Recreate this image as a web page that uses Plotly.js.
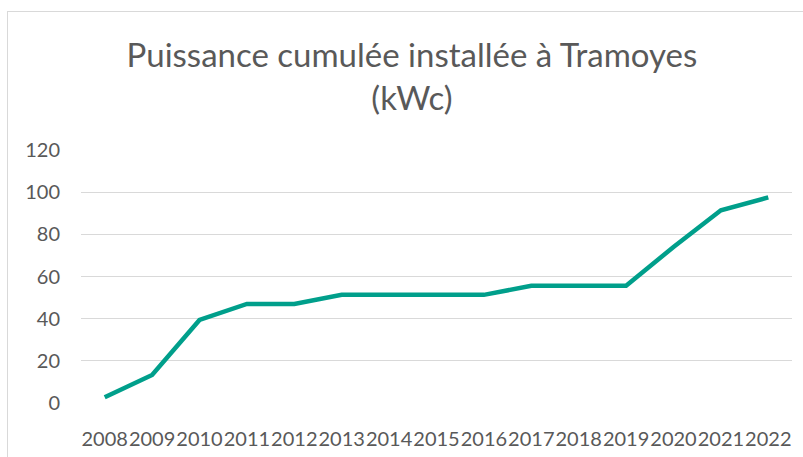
<!DOCTYPE html>
<html>
<head>
<meta charset="utf-8">
<script src="https://cdn.plot.ly/plotly-3.0.1.min.js"></script>
<style>
  html, body { margin: 0; padding: 0; background: #fff; }
  #wrap { position: relative; width: 803px; height: 457px; overflow: hidden; }
  #chart { width: 803px; height: 457px; }
  #frame { position: absolute; left: 7px; top: 11px; width: 820px; height: 480px;
           border-top: 1.5px solid #d9d9d9; border-left: 1.5px solid #d9d9d9; pointer-events: none; }
</style>
</head>
<body>
<div id="wrap">
  <div id="chart"></div>
  <div id="frame"></div>
</div>
<script>
const years = ["2008","2009","2010","2011","2012","2013","2014","2015","2016","2017","2018","2019","2020","2021","2022"];
const puissance = [2.7, 13.3, 39.4, 47, 47, 51.3, 51.3, 51.3, 51.3, 55.6, 55.6, 55.6, 74, 91.4, 97.5];
const yTicks = [0, 20, 40, 60, 80, 100, 120];
const titleText = "Puissance cumulée installée à Tramoyes<br>(kWc)";

const textColor = "#595959";
const fontFamily = "Lato, 'Open Sans', 'Liberation Sans', sans-serif";

Plotly.newPlot("chart", [{
  type: "scatter",
  mode: "lines",
  x: years,
  y: puissance,
  line: { color: "#009F8B", width: 4.5 },
  hoverinfo: "x+y"
}], {
  width: 803,
  height: 457,
  paper_bgcolor: "#ffffff",
  plot_bgcolor: "#ffffff",
  margin: { l: 81, r: 11, t: 150, b: 54 },
  showlegend: false,
  title: {
    text: titleText,
    font: { family: fontFamily, size: 33, color: textColor },
    xref: "container", x: 0.513, xanchor: "center",
    yref: "container", y: 0.853, yanchor: "top"
  },
  xaxis: {
    type: "category",
    tickmode: "array",
    tickvals: years,
    ticktext: years,
    tickangle: 0,
    showgrid: false,
    showline: false,
    zeroline: false,
    ticks: "",
    ticklabelstandoff: 22,
    tickfont: { family: fontFamily, size: 20, color: textColor },
    range: [-0.5, years.length - 0.5]
  },
  yaxis: {
    range: [0, 120],
    tickmode: "array",
    tickvals: yTicks,
    ticktext: yTicks.map(String),
    showgrid: true,
    gridcolor: "#d9d9d9",
    gridwidth: 1.3,
    zeroline: false,
    showline: false,
    ticks: "",
    ticklabelstandoff: 20,
    tickfont: { family: fontFamily, size: 20, color: textColor }
  }
}, { displayModeBar: false, staticPlot: true });
</script>
</body>
</html>
